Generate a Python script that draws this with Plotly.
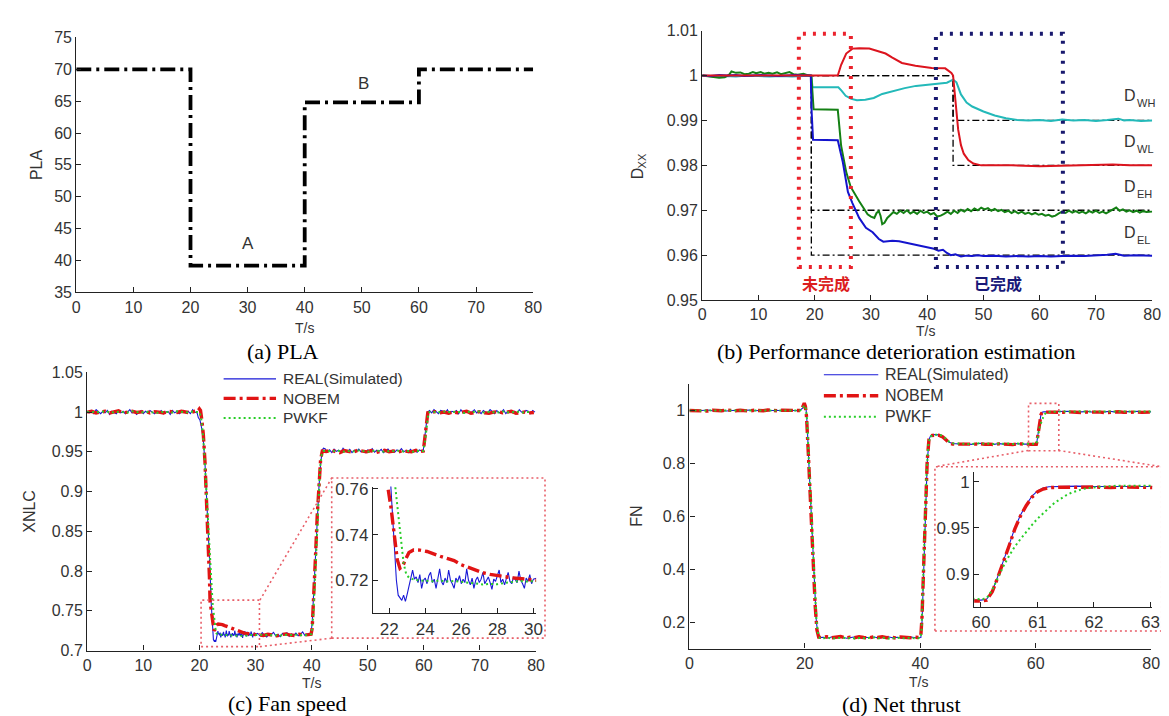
import plotly.graph_objects as go

W, H = 1169, 716
def fx(p): return p / W
def fy(p): return 1 - p / H
def U(t0, dt, vals):
    return [(round(t0 + dt * i, 3), v) for i, v in enumerate(vals)]
def xy(pairs):
    t, v = zip(*pairs)
    return list(t), list(v)

# ---------------- (a) PLA ----------------
PLA_T = [0, 20, 20, 40, 40, 60, 60, 80]
PLA_V = [70, 70, 39.2, 39.2, 64.8, 64.8, 70, 70]

# ---------------- (b) deterioration estimation ----------------
TRUE_WH = [(0, 1), (44.6, 1), (44.6, 0.99), (80, 0.99)]
TRUE_WL = [(0, 1), (44.6, 1), (44.6, 0.98), (80, 0.98)]
TRUE_EH = [(0, 1), (19.4, 1), (19.4, 0.97), (80, 0.97)]
TRUE_EL = [(0, 1), (19.4, 1), (19.4, 0.96), (80, 0.96)]

EST_WL = [(0, 1.0), (5, 1.0), (10, 1.0), (15, 1.0), (20, 1.0), (24.1, 1.0), (24.7, 1.0024), (25.6, 1.0049),
          (26.7, 1.006), (27.9, 1.0061), (29.7, 1.006), (31.4, 1.0053), (32.6, 1.0049), (33.8, 1.0040),
          (35.5, 1.0028), (37.9, 1.0022), (40.8, 1.0017), (43.2, 1.0016), (44.3, 1.0006), (44.6, 1.0),
          (45.0, 0.994), (45.5, 0.988), (46.0, 0.9845), (46.5, 0.9826), (47.3, 0.9812), (48.2, 0.9804),
          (49.6, 0.980), (55, 0.980), (60, 0.9798), (65, 0.9799), (70, 0.980), (73, 0.9802), (76, 0.980), (80, 0.980)]

EST_WH = [(0, 1.0), (2, 0.9998), (4, 0.9999), (6, 0.9998), (8, 1.0), (10, 0.9999), (12, 0.9998), (14, 0.9999),
          (16, 0.9998), (18, 0.9999), (19.4, 0.9999), (19.6, 0.9974), (24.2, 0.9974), (24.8, 0.9966),
          (25.5, 0.9955), (26.5, 0.9948), (27.5, 0.9945), (29, 0.9946), (30.5, 0.9950), (32, 0.9959),
          (34, 0.9966), (36, 0.9972), (38, 0.9977), (40, 0.9979), (42, 0.9981), (43.5, 0.9984), (44.6, 0.9991),
          (45.2, 0.9985), (46, 0.9958), (47, 0.9940), (48, 0.9931), (50, 0.9920), (52, 0.9911), (54, 0.9905),
          (56, 0.9901), (58, 0.9900), (60, 0.9901), (62, 0.9899), (64, 0.9902), (66, 0.9900), (68, 0.9901),
          (70, 0.9899), (72, 0.9901), (74, 0.9904), (75, 0.9900), (76, 0.9901), (78, 0.9899), (80, 0.9900)]

EST_EL = [(0, 1.0), (1.5, 0.9999), (3, 1.0001), (4.5, 1.0), (6, 1.0001), (7.5, 0.9999), (9, 1.0), (10.5, 1.0001),
          (12, 1.0), (13.5, 0.9999), (15, 1.0), (16.5, 1.0001), (18, 1.0), (19.3, 1.0), (19.45, 0.992),
          (19.7, 0.9857), (24.1, 0.9856), (25.0, 0.9807), (25.9, 0.9741), (26.7, 0.9716), (27.9, 0.9683),
          (29.1, 0.9661), (30.3, 0.9651), (31.4, 0.9636), (32.2, 0.9630), (33.8, 0.9632), (35, 0.9631),
          (36.5, 0.9627), (38, 0.9623), (39, 0.9620), (40, 0.9618), (41, 0.9615), (42, 0.9610), (42.8, 0.9612),
          (43.5, 0.9605), (44.2, 0.9600), (45, 0.9602), (46, 0.9597), (47, 0.9599), (48, 0.9598), (49, 0.9600),
          (50, 0.9598), (52, 0.9599), (54, 0.9597), (56, 0.9598), (58, 0.9597), (60, 0.9598), (62, 0.9597),
          (64, 0.9598), (66, 0.9599), (68, 0.9598), (70, 0.9599), (72, 0.9601), (73.5, 0.9603), (75, 0.9599),
          (77, 0.9600), (80, 0.9599)]

EST_EH = [(0, 1.0), (1, 0.9998), (2, 0.9996), (3, 0.9995), (4, 0.9996), (4.8, 1.0002), (5.2, 1.0009), (6, 1.0006),
          (6.8, 1.0007), (7.5, 1.0003), (8.3, 1.0004), (9, 1.0008), (9.6, 1.0005), (10.4, 1.0008), (11, 1.0004),
          (11.8, 1.0006), (12.5, 1.0004), (13.3, 1.0007), (14, 1.0003), (14.8, 1.0006), (15.5, 1.0008),
          (16.2, 1.0003), (17, 1.0002), (18, 1.0004), (18.7, 1.0001), (19.4, 1.0), (19.6, 0.996), (19.8, 0.9925),
          (24.1, 0.9924), (24.7, 0.9843), (25.6, 0.9785), (26.4, 0.9752), (27.9, 0.9720), (29.4, 0.9691),
          (30.0, 0.9686), (30.6, 0.9683), (31.0, 0.9694), (31.4, 0.9698), (31.7, 0.9688), (32.0, 0.9669),
          (32.4, 0.9672), (32.9, 0.9683), (33.5, 0.9690), (34, 0.9696), (34.6, 0.9692), (35.2, 0.9699),
          (35.8, 0.9694), (36.4, 0.9700), (37, 0.9693), (37.6, 0.9697), (38.2, 0.9692), (38.8, 0.9699),
          (39.4, 0.9694), (40, 0.9697), (40.6, 0.9691), (41.2, 0.9694), (41.8, 0.9686), (42.4, 0.9688),
          (43, 0.9692), (43.6, 0.9697), (44.2, 0.9692), (44.8, 0.9699), (45.4, 0.9694), (46, 0.9701),
          (46.6, 0.9697), (47.2, 0.9703), (47.8, 0.9698), (48.4, 0.9704), (49, 0.9700), (49.6, 0.9706),
          (50.2, 0.9702), (50.8, 0.9705), (51.4, 0.9699), (52, 0.9703), (52.6, 0.9698), (53.2, 0.9701),
          (53.8, 0.9696), (54.4, 0.9699), (55, 0.9694), (55.6, 0.9698), (56.2, 0.9693), (56.8, 0.9697),
          (57.4, 0.9692), (58, 0.9695), (58.6, 0.9691), (59.2, 0.9694), (59.8, 0.9690), (60.4, 0.9692),
          (61, 0.9688), (61.6, 0.9690), (62.2, 0.9686), (62.8, 0.9688), (63.4, 0.9693), (64, 0.9697),
          (64.6, 0.9694), (65.2, 0.9699), (65.8, 0.9695), (66.4, 0.9698), (67, 0.9694), (67.6, 0.9697),
          (68.2, 0.9693), (68.8, 0.9698), (69.4, 0.9695), (70, 0.9699), (70.6, 0.9694), (71.2, 0.9697),
          (71.8, 0.9693), (72.4, 0.9698), (73, 0.9701), (73.6, 0.9706), (74.2, 0.9699), (74.8, 0.9702),
          (75.4, 0.9697), (76, 0.9700), (76.6, 0.9696), (77.2, 0.9699), (77.8, 0.9695), (78.4, 0.9698),
          (79, 0.9696), (80, 0.9697)]

# ---------------- (c) fan speed XNLC ----------------
C_REAL_F1 = [1.001, 0.999, 1.002, 0.998, 1.003, 1.000, 0.998, 1.001, 0.999, 1.002, 0.997, 1.001, 1.000, 0.998,
             1.002, 0.999, 1.001, 0.998, 1.000, 1.003, 0.999, 1.001, 0.997, 1.000, 1.002, 0.998, 1.001, 0.999,
             1.002, 1.000, 0.998, 1.001, 0.999, 1.002, 0.998, 1.000, 1.001, 0.997, 1.002, 0.999, 1.001, 0.998,
             1.000, 1.002, 0.999, 1.001, 0.998, 1.003, 1.000, 0.999]
C_REAL_D1 = [(19.8, 0.993), (20.1, 0.990), (20.4, 0.980), (20.7, 0.965), (21.0, 0.935), (21.3, 0.895),
             (21.6, 0.850), (21.9, 0.800), (22.1, 0.760), (22.2, 0.745), (22.3, 0.730), (22.4, 0.720),
             (22.5, 0.7135), (22.6, 0.7125), (22.7, 0.7112), (22.8, 0.7135), (22.9, 0.7108), (23.0, 0.7140),
             (23.1, 0.7175), (23.2, 0.7210)]
C_REAL_F2 = [0.7245, 0.7205, 0.7215, 0.7190, 0.7225, 0.7165, 0.7200, 0.7210, 0.7185, 0.7220, 0.7235, 0.7190,
             0.7205, 0.7165, 0.7215, 0.7250, 0.7195, 0.7180, 0.7210, 0.7190, 0.7245, 0.7200, 0.7185, 0.7165,
             0.7210, 0.7195, 0.7220, 0.7185, 0.7205, 0.7190, 0.7250, 0.7200, 0.7180, 0.7210, 0.7165, 0.7200,
             0.7215, 0.7190, 0.7205, 0.7235, 0.7185, 0.7200, 0.7215, 0.7190, 0.7160, 0.7205, 0.7195, 0.7220,
             0.7245, 0.7190, 0.7205, 0.7180, 0.7210, 0.7235, 0.7195, 0.7185, 0.7215, 0.7200, 0.7190, 0.7240,
             0.7200, 0.7185, 0.7165, 0.7210, 0.7195, 0.7225, 0.7185, 0.7205]
C_REAL_F3 = [0.7215, 0.7185, 0.7225, 0.7190, 0.7170, 0.7210, 0.7200, 0.7230, 0.7185, 0.7205, 0.7175, 0.7215,
             0.7195, 0.7225, 0.7180, 0.7210, 0.7190, 0.7220, 0.7185, 0.7205, 0.7235, 0.7190, 0.7210, 0.7200]
C_REAL_R1 = [(39.9, 0.7220), (40.1, 0.735), (40.4, 0.780), (40.7, 0.830), (41.0, 0.870), (41.3, 0.905),
             (41.6, 0.935), (41.9, 0.952), (42.1, 0.9545)]
C_REAL_F4 = [0.9540, 0.9500, 0.9525, 0.9490, 0.9535, 0.9505, 0.9520, 0.9495, 0.9545, 0.9510, 0.9500, 0.9530,
             0.9490, 0.9520, 0.9505, 0.9535, 0.9500, 0.9515, 0.9490, 0.9525, 0.9510, 0.9540, 0.9495, 0.9520,
             0.9505, 0.9530, 0.9490, 0.9515, 0.9535, 0.9500, 0.9520, 0.9495, 0.9525, 0.9510, 0.9540, 0.9500,
             0.9515, 0.9490, 0.9530, 0.9505, 0.9520, 0.9495, 0.9525, 0.9510]
C_REAL_R2 = [(59.9, 0.952), (60.1, 0.965), (60.3, 0.980), (60.5, 0.993), (60.7, 1.000)]
C_REAL_F5 = [1.002, 0.999, 1.003, 1.000, 0.998, 1.002, 1.001, 0.999, 1.003, 0.998, 1.001, 1.000, 1.002, 0.998,
             1.003, 0.999, 1.001, 1.002, 0.998, 1.000, 1.003, 0.999, 1.001, 0.998, 1.002, 1.000, 0.999, 1.003,
             1.001, 0.998, 1.002, 0.999, 1.000, 1.003, 0.998, 1.001, 1.002, 0.999, 1.001, 0.998, 1.003, 1.000,
             0.999, 1.002, 1.001, 0.998, 1.002, 1.000]
C_REAL = (U(0, 0.4, C_REAL_F1) + C_REAL_D1 + U(23.3, 0.1, C_REAL_F2) + U(30.4, 0.4, C_REAL_F3) + C_REAL_R1
          + U(42.4, 0.4, C_REAL_F4) + C_REAL_R2 + U(61.0, 0.4, C_REAL_F5))

C_NOB_F1 = [1.000, 1.001, 0.999, 1.000, 1.001, 0.999, 1.000, 1.0015, 0.999, 1.000, 1.001, 0.9995, 1.000, 1.001,
            0.999, 1.0005, 1.000, 0.999, 1.001, 1.000, 0.9995, 1.001, 1.000, 0.999, 1.001]
C_NOB_D1 = [(19.7, 1.001), (20.0, 1.004), (20.2, 1.002), (20.4, 0.992), (20.7, 0.972), (21.0, 0.937),
            (21.3, 0.890), (21.6, 0.835), (21.8, 0.790), (21.9, 0.762), (22.1, 0.752), (22.3, 0.738),
            (22.45, 0.729), (22.6, 0.7252), (22.75, 0.7262), (22.9, 0.729), (23.1, 0.7322), (23.35, 0.7333),
            (23.7, 0.7332), (24.1, 0.7326), (24.5, 0.7314), (24.9, 0.7303), (25.3, 0.7294), (25.6, 0.7286),
            (26.0, 0.7268), (26.4, 0.7255), (26.8, 0.7243), (27.2, 0.7233), (27.6, 0.7226), (28.0, 0.7220),
            (28.4, 0.7215), (28.8, 0.7211), (29.2, 0.7208), (29.6, 0.7206), (30.0, 0.7204)]
C_NOB_F2 = [0.7200, 0.7190, 0.7205, 0.7195, 0.7185, 0.7200, 0.7210, 0.7195, 0.7190, 0.7205, 0.7195, 0.7200]
C_NOB_R1 = [(39.9, 0.7205), (40.1, 0.728), (40.4, 0.765), (40.7, 0.820), (41.0, 0.870), (41.3, 0.910),
            (41.6, 0.940), (41.9, 0.951)]
C_NOB_F3 = [0.9505, 0.9520, 0.9500, 0.9490, 0.9515, 0.9505, 0.9495, 0.9520, 0.9510, 0.9500, 0.9515, 0.9490,
            0.9505, 0.9520, 0.9500, 0.9510, 0.9495, 0.9515, 0.9505, 0.9500, 0.9520, 0.9505]
C_NOB_R2 = [(59.9, 0.951), (60.1, 0.962), (60.3, 0.978), (60.5, 0.992), (60.7, 0.999)]
C_NOB_F4 = [0.9995, 1.0005, 0.999, 1.000, 0.9985, 1.0005, 0.999, 1.000, 1.001, 0.9985, 0.9995, 1.0005, 0.999,
            0.9985, 1.000, 1.0005, 0.999, 0.9995, 1.001, 0.9985, 0.9995, 1.000, 0.999, 0.9995]
C_NOB = (U(0, 0.8, C_NOB_F1) + C_NOB_D1 + U(30.6, 0.8, C_NOB_F2) + C_NOB_R1 + U(42.6, 0.8, C_NOB_F3)
         + C_NOB_R2 + U(61.2, 0.8, C_NOB_F4))

C_PWK_F1 = [1.000, 1.0005, 0.9995, 1.000, 1.001, 1.000, 0.9995, 1.0005, 1.000, 0.9995, 1.001, 1.000, 0.9995,
            1.0005, 1.000, 1.000, 0.999, 1.0005, 1.000, 0.9995, 1.001, 1.000, 0.9995, 1.0005, 1.000]
C_PWK_D1 = [(20.0, 1.000), (20.3, 0.993), (20.6, 0.975), (20.9, 0.945), (21.2, 0.905), (21.5, 0.865),
            (21.8, 0.820), (22.1, 0.785), (22.35, 0.760), (22.5, 0.750), (22.65, 0.738), (22.8, 0.7275),
            (22.95, 0.7225), (23.1, 0.7212), (23.3, 0.7205)]
C_PWK_F2 = [0.7200, 0.7198, 0.7196, 0.7199, 0.7195, 0.7197, 0.7193, 0.7190, 0.7185, 0.7182, 0.7184, 0.7183,
            0.7188, 0.7194, 0.7197, 0.7195, 0.7196]
C_PWK_F3 = [0.7195, 0.7200, 0.7192, 0.7198, 0.7195, 0.7190, 0.7198, 0.7195, 0.7200, 0.7193, 0.7197, 0.7195]
C_PWK_R1 = [(40.0, 0.721), (40.3, 0.745), (40.6, 0.790), (40.9, 0.845), (41.2, 0.895), (41.5, 0.930),
            (41.8, 0.947), (42.1, 0.951)]
C_PWK_F4 = [0.9510, 0.9505, 0.9515, 0.9508, 0.9500, 0.9512, 0.9505, 0.9518, 0.9508, 0.9502, 0.9510, 0.9515,
            0.9505, 0.9500, 0.9512, 0.9508, 0.9515, 0.9505, 0.9510, 0.9502, 0.9512, 0.9508]
C_PWK_R2 = [(59.9, 0.951), (60.2, 0.963), (60.4, 0.978), (60.6, 0.990), (60.8, 0.998), (61.0, 1.000)]
C_PWK_F5 = [1.0005, 0.9995, 1.000, 1.001, 0.9995, 1.0005, 1.000, 0.999, 1.0005, 1.000, 1.001, 0.9995, 1.000,
            1.0005, 0.999, 1.000, 1.001, 0.9995, 1.000, 1.0005, 0.9995, 1.000, 1.0005]
C_PWK = (U(0, 0.8, C_PWK_F1) + C_PWK_D1 + U(23.6, 0.4, C_PWK_F2) + U(30.8, 0.8, C_PWK_F3) + C_PWK_R1
         + U(42.8, 0.8, C_PWK_F4) + C_PWK_R2 + U(61.6, 0.8, C_PWK_F5))

# ---------------- (d) net thrust FN ----------------
D_REAL_F1 = [1.000, 1.001, 0.999, 1.000, 1.002, 0.999, 1.000, 1.001, 0.998, 1.000, 1.001, 0.999, 1.000, 1.002,
             0.999, 1.000, 1.001, 0.999, 1.000, 1.001, 0.998, 1.000, 1.001, 0.999, 1.002]
D_REAL_D1 = [(19.8, 1.012), (20.0, 1.024), (20.2, 1.010), (20.4, 0.95), (20.7, 0.80), (21.1, 0.60), (21.5, 0.40),
             (22.0, 0.20), (22.3, 0.150), (22.6, 0.142)]
D_REAL_F2 = [0.143, 0.140, 0.145, 0.141, 0.144, 0.139, 0.142, 0.145, 0.140, 0.143, 0.141, 0.144, 0.140, 0.142,
             0.145, 0.141, 0.143, 0.139, 0.142, 0.144, 0.141]
D_REAL_R1 = [(40.1, 0.142), (40.3, 0.20), (40.6, 0.40), (40.9, 0.62), (41.2, 0.80), (41.5, 0.89), (41.8, 0.905),
             (42.5, 0.909), (43.3, 0.908), (43.9, 0.903), (44.4, 0.891), (45.0, 0.880), (45.6, 0.875)]
D_REAL_F3 = [0.874, 0.873, 0.875, 0.872, 0.874, 0.876, 0.873, 0.874, 0.872, 0.875, 0.873, 0.874, 0.872, 0.875,
             0.873, 0.874, 0.873]
D_REAL_R2 = [(59.7, 0.873), (60.0, 0.872), (60.1, 0.873), (60.2, 0.882), (60.3, 0.898), (60.4, 0.914),
             (60.5, 0.932), (60.6, 0.950), (60.7, 0.964), (60.8, 0.975), (60.9, 0.984), (61.0, 0.990),
             (61.1, 0.993), (61.2, 0.9945), (61.4, 0.995), (61.7, 0.9952), (62.0, 0.9948), (62.3, 0.9951),
             (62.6, 0.9949), (63.0, 0.9952), (63.4, 0.995)]
D_REAL_F4 = [0.996, 0.995, 0.997, 0.994, 0.996, 0.995, 0.997, 0.995, 0.994, 0.996, 0.995, 0.997, 0.995, 0.996,
             0.994, 0.996, 0.995, 0.997, 0.995, 0.996]
D_REAL = (U(0, 0.8, D_REAL_F1) + D_REAL_D1 + U(23.2, 0.8, D_REAL_F2) + D_REAL_R1 + U(46.4, 0.8, D_REAL_F3)
          + D_REAL_R2 + U(64.0, 0.8, D_REAL_F4) + [(80, 0.995)])

D_NOB_F1 = [1.000, 0.999, 1.001, 1.000, 0.998, 1.001, 1.000, 0.999, 1.002, 1.000, 0.999, 1.001, 1.000, 0.998,
            1.001, 1.000, 0.999, 1.002, 1.000, 0.999, 1.001, 1.000, 0.999, 1.001, 1.000]
D_NOB_D1 = [(19.6, 1.012), (19.9, 1.028), (20.1, 1.016), (20.3, 0.975), (20.6, 0.84), (21.0, 0.64), (21.4, 0.44),
            (21.8, 0.26), (22.1, 0.17), (22.4, 0.143)]
D_NOB_F2 = [0.142, 0.145, 0.141, 0.143, 0.146, 0.140, 0.143, 0.141, 0.145, 0.142, 0.140, 0.144, 0.142, 0.145,
            0.141, 0.143, 0.140, 0.144, 0.142, 0.141, 0.143]
D_NOB_R1 = [(39.8, 0.142), (40.1, 0.150), (40.3, 0.22), (40.6, 0.42), (40.9, 0.64), (41.2, 0.81), (41.5, 0.89),
            (41.8, 0.905), (42.5, 0.907), (43.3, 0.906), (43.9, 0.900), (44.4, 0.888), (45.0, 0.878),
            (45.6, 0.873)]
D_NOB_F3 = [0.873, 0.872, 0.874, 0.871, 0.873, 0.875, 0.872, 0.873, 0.871, 0.874, 0.872, 0.873, 0.871, 0.874,
            0.872, 0.873, 0.872]
D_NOB_R2 = [(59.7, 0.872), (60.0, 0.871), (60.1, 0.872), (60.2, 0.881), (60.3, 0.897), (60.4, 0.913),
            (60.5, 0.931), (60.6, 0.949), (60.7, 0.963), (60.8, 0.974), (60.9, 0.983), (61.0, 0.989),
            (61.1, 0.992), (61.2, 0.9935), (61.4, 0.994), (61.7, 0.9938), (62.0, 0.9942), (62.3, 0.9936),
            (62.6, 0.9941), (63.0, 0.9937), (63.4, 0.994)]
D_NOB_F4 = [0.994, 0.993, 0.995, 0.993, 0.994, 0.992, 0.994, 0.995, 0.993, 0.994, 0.992, 0.994, 0.993, 0.995,
            0.993, 0.994, 0.992, 0.994, 0.993, 0.994]
D_NOB = (U(0, 0.8, D_NOB_F1) + D_NOB_D1 + U(23.0, 0.8, D_NOB_F2) + D_NOB_R1 + U(46.4, 0.8, D_NOB_F3)
         + D_NOB_R2 + U(64.0, 0.8, D_NOB_F4) + [(80, 0.994)])

D_PWK_F1 = [1.000, 1.001, 1.000, 0.999, 1.001, 1.000, 1.000, 0.999, 1.001, 1.000, 0.999, 1.000, 1.001, 1.000,
            0.999, 1.001, 1.000, 1.000, 0.999, 1.001, 1.000, 0.999, 1.001, 1.000, 1.000]
D_PWK_D1 = [(19.6, 1.008), (19.9, 1.020), (20.2, 1.005), (20.4, 0.96), (20.7, 0.81), (21.1, 0.61), (21.5, 0.41),
            (22.0, 0.21), (22.3, 0.155), (22.6, 0.140)]
D_PWK_F2 = [0.139, 0.141, 0.138, 0.140, 0.142, 0.139, 0.140, 0.138, 0.141, 0.139, 0.140, 0.142, 0.139, 0.141,
            0.138, 0.140, 0.141, 0.139, 0.140, 0.141, 0.139]
D_PWK_R1 = [(40.0, 0.140), (40.2, 0.16), (40.5, 0.36), (40.8, 0.58), (41.1, 0.77), (41.4, 0.87), (41.7, 0.902),
            (42.5, 0.908), (43.3, 0.908), (43.9, 0.904), (44.4, 0.893), (45.0, 0.882), (45.6, 0.876)]
D_PWK_F3 = [0.875, 0.874, 0.875, 0.873, 0.875, 0.876, 0.874, 0.875, 0.873, 0.875, 0.874, 0.875, 0.873, 0.875,
            0.874, 0.875, 0.874]
D_PWK_R2 = [(59.7, 0.874), (60.0, 0.873), (60.1, 0.874), (60.2, 0.883), (60.3, 0.897), (60.4, 0.909),
            (60.5, 0.920), (60.6, 0.930), (60.7, 0.938), (60.8, 0.946), (60.9, 0.953), (61.0, 0.960),
            (61.1, 0.966), (61.2, 0.972), (61.3, 0.977), (61.4, 0.981), (61.5, 0.985), (61.6, 0.988),
            (61.7, 0.990), (61.8, 0.992), (61.9, 0.993), (62.1, 0.9945), (62.4, 0.9955), (62.8, 0.9957),
            (63.2, 0.9956)]
D_PWK_F4 = [0.996, 0.997, 0.996, 0.995, 0.997, 0.996, 0.996, 0.995, 0.997, 0.996, 0.995, 0.997, 0.996, 0.996,
            0.995, 0.997, 0.996, 0.995, 0.997, 0.996]
D_PWK = (U(0, 0.8, D_PWK_F1) + D_PWK_D1 + U(23.2, 0.8, D_PWK_F2) + D_PWK_R1 + U(46.4, 0.8, D_PWK_F3)
         + D_PWK_R2 + U(64.0, 0.8, D_PWK_F4) + [(80, 0.996)])

SERIES_NAMES = ["REAL(Simulated)", "NOBEM", "PWKF"]

# ---------------- styles ----------------
SANS = "Liberation Sans, Arial, sans-serif"
SERIF = "Liberation Serif, Times New Roman, serif"
CJK = "Noto Sans CJK SC"
TXT = "#333333"
BLUE = "rgb(25,25,215)"
RED = "rgb(225,20,20)"
GREEN = "rgb(40,205,40)"
BOXRED = "rgb(232,95,105)"
STY = [dict(color=BLUE, width=1.1, dash="solid"),
       dict(color=RED, width=3.4, dash="12px,4px,3px,4px"),
       dict(color=GREEN, width=2.0, dash="2px,3px")]

fig = go.Figure()

# (a)
fig.add_trace(go.Scatter(x=PLA_T, y=PLA_V, mode="lines", xaxis="x", yaxis="y", showlegend=False,
                         line=dict(color="black", width=3.8, dash="15px,5px,3px,5px")))

# (b)
for ref in [TRUE_WH, TRUE_WL, TRUE_EH, TRUE_EL]:
    t, v = xy(ref)
    fig.add_trace(go.Scatter(x=t, y=v, mode="lines", xaxis="x2", yaxis="y2", showlegend=False,
                             line=dict(color="black", width=1.3, dash="7px,3px,2px,3px")))
for est, col in [(EST_WH, "rgb(35,185,185)"), (EST_EH, "rgb(20,128,20)"), (EST_EL, "rgb(20,20,205)"),
                 (EST_WL, "rgb(220,20,30)")]:
    t, v = xy(est)
    fig.add_trace(go.Scatter(x=t, y=v, mode="lines", xaxis="x2", yaxis="y2", showlegend=False,
                             line=dict(color=col, width=2)))

# (c), (d) with insets
for data, xa, ya, xi, yi in [([C_REAL, C_NOB, C_PWK], "x3", "y3", "x5", "y5"),
                             ([D_REAL, D_NOB, D_PWK], "x4", "y4", "x6", "y6")]:
    for k, ser in enumerate(data):
        t, v = xy(ser)
        fig.add_trace(go.Scatter(x=t, y=v, mode="lines", xaxis=xa, yaxis=ya, name=SERIES_NAMES[k],
                                 showlegend=False, line=STY[k]))
    for k, ser in enumerate(data):
        t, v = xy(ser)
        fig.add_trace(go.Scatter(x=t, y=v, mode="lines", xaxis=xi, yaxis=yi, name=SERIES_NAMES[k],
                                 showlegend=False, line=STY[k]))

AX = dict(showline=True, linecolor="#222", linewidth=1.3, ticks="inside", ticklen=5, tickwidth=1.2,
          tickcolor="#222", showgrid=False, zeroline=False, mirror=False,
          tickfont=dict(family=SANS, size=16, color=TXT))
INS = dict(AX, tickfont=dict(family=SANS, size=17, color=TXT), linewidth=1.2)

def dom_x(a, b): return [fx(a), fx(b)]
def dom_y(top, bot): return [fy(bot), fy(top)]

fig.update_layout(
    width=W, height=H, margin=dict(l=0, r=0, t=0, b=0), showlegend=False,
    paper_bgcolor="white", plot_bgcolor="rgba(0,0,0,0)",
    xaxis=dict(AX, domain=dom_x(65, 527), range=[0, 80], tickvals=list(range(0, 81, 10)), anchor="y"),
    yaxis=dict(AX, domain=dom_y(22, 283), range=[35, 75], tickvals=list(range(35, 76, 5)), anchor="x"),
    xaxis2=dict(AX, domain=dom_x(698, 1153), range=[0, 80], tickvals=list(range(0, 81, 10)), anchor="y2"),
    yaxis2=dict(AX, domain=dom_y(15, 291), range=[0.95, 1.01],
                tickvals=[0.95, 0.96, 0.97, 0.98, 0.99, 1.0, 1.01],
                ticktext=["0.95", "0.96", "0.97", "0.98", "0.99", "1", "1.01"], anchor="x2"),
    xaxis3=dict(AX, domain=dom_x(76, 530), range=[0, 80], tickvals=list(range(0, 81, 10)), anchor="y3"),
    yaxis3=dict(AX, domain=dom_y(365, 650), range=[0.7, 1.05],
                tickvals=[0.7, 0.75, 0.8, 0.85, 0.9, 0.95, 1.0, 1.05],
                ticktext=["0.7", "0.75", "0.8", "0.85", "0.9", "0.95", "1", "1.05"], anchor="x3"),
    xaxis4=dict(AX, domain=dom_x(685, 1152), range=[0, 80], tickvals=[0, 20, 40, 60, 80], anchor="y4"),
    yaxis4=dict(AX, domain=dom_y(377, 648), range=[0.1, 1.1], tickvals=[0.2, 0.4, 0.6, 0.8, 1.0],
                ticktext=["0.2", "0.4", "0.6", "0.8", "1"], anchor="x4"),
    xaxis5=dict(INS, domain=dom_x(365, 530), range=[21.1, 30.15], tickvals=[22, 24, 26, 28, 30], anchor="y5"),
    yaxis5=dict(INS, domain=dom_y(482, 612), range=[0.7055, 0.761], tickvals=[0.72, 0.74, 0.76], anchor="x5"),
    xaxis6=dict(INS, domain=dom_x(973, 1153), range=[59.88, 63.03], tickvals=[60, 61, 62, 63], anchor="y6"),
    yaxis6=dict(INS, domain=dom_y(467, 605), range=[0.865, 1.0105], tickvals=[0.9, 0.95, 1.0],
                ticktext=["0.9", "0.95", "1"], anchor="x6"),
)

def ann(text, x, y, size=16, fam=SANS, color=TXT, angle=0, xa="center", weight="normal", **kw):
    d = dict(text=text, x=fx(x), y=fy(y), xref="paper", yref="paper", showarrow=False,
             font=dict(family=fam, size=size, color=color, weight=weight), textangle=angle,
             xanchor=xa, yanchor="middle")
    d.update(kw)
    return d

annotations = [
    dict(text="A", x=30, y=42.7, xref="x", yref="y", showarrow=False, font=dict(family=SANS, size=17, color=TXT)),
    dict(text="B", x=50.3, y=67.8, xref="x", yref="y", showarrow=False, font=dict(family=SANS, size=17, color=TXT)),
    ann("(a) PLA", 274, 344, 22, SERIF, "black"),
    ann("(b) Performance deterioration estimation", 894, 344, 22, SERIF, "black"),
    ann("(c) Fan speed", 279, 704, 22, SERIF, "black"),
    ann("(d) Net thrust", 899, 705, 22, SERIF, "black"),
    ann("T/s", 296, 320, 14), ann("T/s", 924, 322.5, 14), ann("T/s", 303, 683, 14), ann("T/s", 917, 682, 14),
    ann("PLA", 25, 152, angle=-90), ann("XNLC", 18, 507, angle=-90), ann("FN", 632, 512, angle=-90),
    ann("D", 632, 161, angle=-90), ann("XX", 638, 148, size=11, angle=-90),
    ann("未完成", 823, 274, 16, CJK, "rgb(220,30,30)", weight="bold"),
    ann("已完成", 997, 274, 16, CJK, "rgb(25,25,120)", weight="bold"),
]
for lab, yc in [("WH", 81.7), ("WL", 128.5), ("EH", 175), ("EL", 221.7)]:
    annotations.append(ann("D", 1131, yc, 16))
    annotations.append(ann(lab, 1136, yc + 7.5, 11, xa="left"))

# legends of (c) and (d)
LEG_C = dict(x0=214, x1=267, xt=272, ys=[371.7, 391.7, 411.7], size=15.5)
LEG_D = dict(x0=821, x1=876, xt=881, ys=[367.5, 389, 410.5], size=16)

def prect(x0, y0, x1, y1, color, width, dash):
    return dict(type="rect", xref="paper", yref="paper", x0=fx(x0), x1=fx(x1), y0=fy(y1), y1=fy(y0),
                line=dict(color=color, width=width, dash=dash), fillcolor="rgba(0,0,0,0)", layer="above")
def pline(x0, y0, x1, y1, color, width, dash):
    return dict(type="line", xref="paper", yref="paper", x0=fx(x0), x1=fx(x1), y0=fy(y0), y1=fy(y1),
                line=dict(color=color, width=width, dash=dash), layer="above")

shapes = [
    prect(795.7, 18.3, 848.3, 257, "rgb(235,35,45)", 4, "3px,7px"),
    prect(934.3, 18.3, 1062.7, 257, "rgb(25,25,110)", 4, "3px,7px"),
    dict(type="rect", xref="x3", yref="y3", x0=20.3, x1=30.7, y0=0.705, y1=0.7635,
         line=dict(color=BOXRED, width=1.6, dash="2px,3px"), layer="above"),
    prect(323.3, 473.3, 539, 637.3, BOXRED, 1.6, "2px,3px"),
    pline(250.7, 598.3, 323.3, 473.3, BOXRED, 1.6, "2px,3px"),
    pline(250.7, 646, 323.3, 637.3, BOXRED, 1.6, "2px,3px"),
    dict(type="rect", xref="x4", yref="y4", x0=58.75, x1=64.0, y0=0.848, y1=1.027,
         line=dict(color=BOXRED, width=1.6, dash="2px,3px"), layer="above"),
    prect(933.3, 461.7, 1162.7, 630, BOXRED, 1.6, "2px,3px"),
    pline(1027.7, 445, 933.3, 461.7, BOXRED, 1.6, "2px,3px"),
    pline(1058.3, 445, 1162.7, 461.7, BOXRED, 1.6, "2px,3px"),
]
for L in (LEG_C, LEG_D):
    for k in range(3):
        s = STY[k]
        shapes.append(pline(L["x0"], L["ys"][k], L["x1"], L["ys"][k], s["color"], s["width"], s["dash"]))
        annotations.append(ann(SERIES_NAMES[k], L["xt"], L["ys"][k], L["size"], xa="left"))

fig.update_layout(annotations=annotations, shapes=shapes)

fig.write_html("out.html", config={"displayModeBar": False})
